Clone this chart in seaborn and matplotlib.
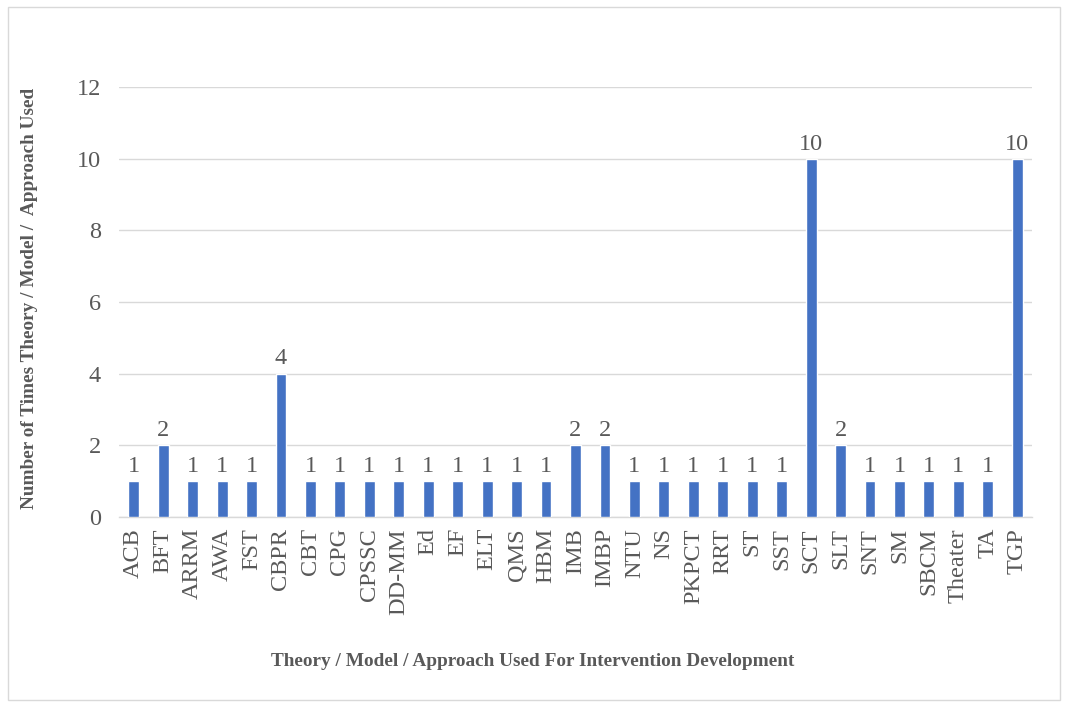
import matplotlib
matplotlib.use("Agg")
import matplotlib.pyplot as plt
import matplotlib.patches as mpatches
import seaborn as sns
import pandas as pd

categories = ["ACB", "BFT", "ARRM", "AWA", "FST", "CBPR", "CBT", "CPG", "CPSSC",
              "DD-MM", "Ed", "EF", "ELT", "QMS", "HBM", "IMB", "IMBP", "NTU", "NS",
              "PKPCT", "RRT", "ST", "SST", "SCT", "SLT", "SNT", "SM", "SBCM",
              "Theater", "TA", "TGP"]
counts = [1, 2, 1, 1, 1, 4, 1, 1, 1, 1, 1, 1, 1, 1, 1, 2, 2, 1, 1, 1, 1, 1, 1,
          10, 2, 1, 1, 1, 1, 1, 10]
y_ticks = [0, 2, 4, 6, 8, 10, 12]

df = pd.DataFrame({"approach": categories, "count": counts})

sns.set_theme(style="white")
plt.rcParams["font.family"] = ["Liberation Serif", "DejaVu Serif"]

text_gray = "#595959"
grid_gray = "#d9d9d9"

fig = plt.figure(figsize=(10.68, 7.03), dpi=100)
ax = fig.add_axes([119 / 1068, 1 - 517 / 703, (1032 - 119) / 1068, (517 - 87) / 703])

sns.barplot(data=df, x="approach", y="count", color="#4472C4", width=0.37,
            saturation=1, ax=ax, zorder=3)

ax.set_ylim(0, 12)
ax.set_xlim(-0.5, len(categories) - 0.5)
ax.set_yticks(y_ticks)
ax.yaxis.grid(True, color=grid_gray, linewidth=1, zorder=0)
ax.xaxis.grid(False)
for side in ["top", "right", "left"]:
    ax.spines[side].set_visible(False)
ax.spines["bottom"].set_color(grid_gray)
ax.spines["bottom"].set_linewidth(1)

ax.tick_params(axis="y", length=0, pad=13, labelsize=17.5, labelcolor=text_gray)
ax.tick_params(axis="x", length=0, pad=8, labelsize=17.5, labelcolor=text_gray,
               labelrotation=90)

for container in ax.containers:
    ax.bar_label(container, labels=[str(v) for v in counts], padding=3,
                 fontsize=17.5, color=text_gray)

ax.set_xlabel("")
ax.set_ylabel("")
fig.text(533 / 1068, 1 - 662 / 703,
         "Theory / Model / Approach Used For Intervention Development",
         ha="center", va="center", fontsize=13.9, fontweight="bold", color=text_gray)
fig.text(30 / 1068, 1 - 298 / 703,
         "Number of Times Theory / Model /  Approach Used",
         ha="center", va="center", rotation=90, fontsize=13.9,
         fontweight="bold", color=text_gray)

fig.patches.append(mpatches.Rectangle((8 / 1068, 3 / 703), 1052 / 1068, 693 / 703,
                                      transform=fig.transFigure, fill=False,
                                      edgecolor="#d9d9d9", linewidth=1))

fig.savefig("out.png", dpi=100, facecolor="white")
